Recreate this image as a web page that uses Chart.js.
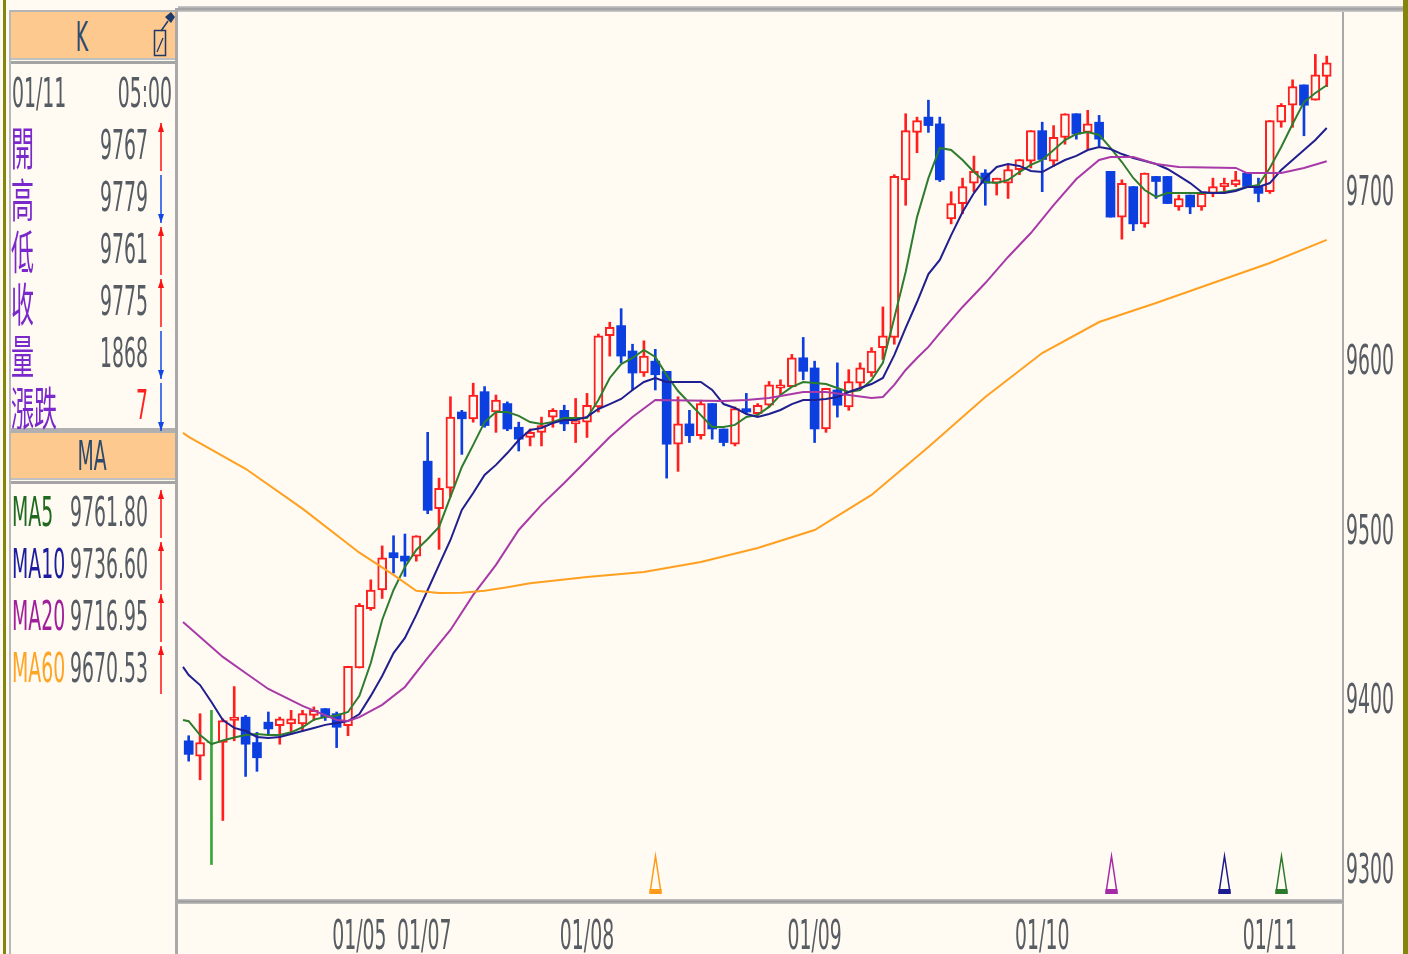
<!DOCTYPE html>
<html>
<head>
<meta charset="utf-8">
<script src="https://cdn.jsdelivr.net/npm/chart.js@4.4.0/dist/chart.umd.min.js"></script>
<style>
  html, body { margin: 0; padding: 0; background: #fffaf2; }
  body { position: relative; width: 1408px; height: 954px; overflow: hidden; }
  .t { position: absolute; width: 400px; height: 52px; line-height: 52px; white-space: nowrap;
       font-family: "DejaVu Sans"; font-size: 41px; color: #565c63; }
  .b { position: absolute; }
  #c { position: absolute; left: 178px; top: 0; }
  #deco { position: absolute; left: 0; top: 0; }
</style>
</head>
<body>
<!-- frame -->
<div class="b" style="left:3px;top:0;width:3px;height:954px;background:#85850c"></div>
<div class="b" style="left:1403px;top:0;width:5px;height:954px;background:#85850c"></div>
<div class="b" style="left:9px;top:10px;width:2px;height:944px;background:#b8b8b8"></div>
<div class="b" style="left:175px;top:8px;width:3px;height:946px;background:#a9a9a9"></div>
<div class="b" style="left:178px;top:6px;width:1225px;height:6px;background:linear-gradient(#cfcfcf,#9c9c9c,#cfcfcf)"></div>
<div class="b" style="left:1342px;top:12px;width:2px;height:942px;background:#a9a9a9"></div>
<div class="b" style="left:178px;top:899px;width:1165px;height:5px;background:linear-gradient(#c4c4c4,#9c9c9c,#c4c4c4)"></div>
<!-- panel headers -->
<div class="b" style="left:11px;top:10px;width:164px;height:48px;background:#fec98f;border-top:2px solid #b4b4b4"></div>
<div class="b" style="left:11px;top:58px;width:164px;height:6px;background:linear-gradient(#c0c0c0 0 2px,#fffaf2 2px 3px,#a4a4a4 3px 6px)"></div>
<div class="b" style="left:11px;top:428px;width:164px;height:5px;background:#b0b0b0"></div>
<div class="b" style="left:11px;top:433px;width:164px;height:45px;background:#fec98f"></div>
<div class="b" style="left:11px;top:478px;width:164px;height:6px;background:linear-gradient(#c0c0c0 0 2px,#fffaf2 2px 3px,#a4a4a4 3px 6px)"></div>

<svg id="deco" width="180" height="954"></svg>
<canvas id="c" width="1225" height="954"></canvas>

<script>
// ---- candles (hourly) ----
const opens = [9375,9366,9374,9374,9387,9389,9374,9386,9384,9385,
  9385,9390,9394,9391,9384,9418,9453,9464,9486,9484,
  9484,9540,9512,9524,9569,9565,9581,9569,9574,9560,
  9554,9557,9566,9570,9562,9563,9572,9614,9620,9605,
  9592,9599,9593,9550,9562,9555,9574,9559,9550,9571,
  9568,9573,9583,9584,9601,9595,9559,9582,9572,9586,
  9592,9607,9613,9706,9734,9743,9739,9683,9692,9704,
  9710,9704,9704,9712,9717,9735,9717,9731,9745,9734,
  9740,9711,9684,9702,9680,9708,9708,9690,9697,9690,
  9698,9702,9703,9710,9702,9699,9740,9750,9762,9753,
  9767];
const highs = [9378,9391,9393,9388,9407,9390,9380,9392,9389,9393,
  9393,9395,9394,9392,9419,9456,9470,9490,9496,9497,
  9496,9557,9530,9578,9570,9586,9584,9579,9575,9563,
  9559,9566,9571,9573,9577,9580,9615,9622,9630,9609,
  9611,9606,9593,9578,9570,9576,9574,9559,9572,9580,
  9574,9587,9588,9603,9613,9599,9583,9598,9594,9598,
  9607,9631,9709,9745,9743,9753,9743,9699,9707,9720,
  9712,9707,9715,9718,9735,9740,9738,9745,9745,9747,
  9744,9711,9706,9702,9710,9708,9708,9697,9697,9698,
  9707,9707,9711,9710,9707,9741,9751,9765,9762,9780,
  9779];
const lows = [9363,9352,9302,9328,9375,9354,9357,9378,9373,9379,
  9381,9387,9387,9371,9378,9418,9452,9459,9474,9472,
  9481,9509,9488,9519,9544,9563,9560,9557,9558,9546,
  9549,9549,9560,9558,9551,9554,9569,9602,9598,9582,
  9590,9582,9530,9534,9551,9553,9553,9549,9549,9568,
  9567,9572,9579,9584,9588,9551,9557,9566,9570,9584,
  9590,9600,9609,9691,9722,9734,9705,9680,9686,9699,
  9691,9697,9695,9709,9713,9699,9714,9727,9730,9724,
  9726,9684,9671,9676,9678,9695,9692,9688,9686,9688,
  9696,9699,9702,9702,9693,9698,9737,9737,9732,9753,
  9761];
const closes = [9367,9374,9374,9387,9389,9373,9365,9382,9388,9388,
  9391,9393,9389,9383,9419,9455,9464,9483,9483,9481,
  9496,9511,9524,9566,9565,9579,9561,9576,9559,9553,
  9557,9561,9570,9562,9564,9573,9614,9619,9602,9592,
  9602,9591,9550,9562,9555,9574,9559,9551,9571,9569,
  9573,9585,9585,9601,9593,9559,9583,9573,9587,9595,
  9605,9614,9708,9735,9741,9738,9706,9692,9702,9711,
  9704,9707,9712,9718,9735,9718,9731,9745,9733,9739,
  9730,9684,9704,9680,9710,9705,9692,9695,9690,9698,
  9702,9704,9706,9702,9698,9741,9750,9761,9750,9768,
  9775];

// ---- moving averages as drawn ----
const maEdge = -0.5; // lines start a bit left of the first candle
const ma5Edge = 9387.3;
const ma5 = [9386.6,9378.4,9373,9375.2,9377,9378.4,9379,9378.4,9378.4,9380,
  9383,9387.5,9389,9390,9392,9401.5,9420.9,9446.3,9464,9477.6,
  9487.6,9494.1,9501.2,9518.9,9536.6,9549.6,9563.1,9569,9569,9566.7,
  9563.1,9561.9,9563.1,9565.5,9565.5,9565.5,9576.1,9589.1,9597.3,9600.9,
  9605.6,9601.5,9590.8,9581.4,9574.3,9567.2,9560.2,9560.2,9561.4,9566.1,
  9567.3,9572,9579.1,9583.8,9586.7,9586.1,9585.5,9583.2,9580.8,9582,
  9587.9,9598,9624.5,9651.6,9684,9707,9724.8,9723.6,9717.7,9710.6,
  9704.7,9704.1,9705.9,9710.6,9714.8,9717.7,9723.6,9729.5,9733,9734.2,
  9732.5,9724.8,9716.5,9707.1,9700,9695.9,9698.2,9698.2,9698.2,9698.2,
  9698.2,9698.8,9700,9701.8,9702.9,9713,9725.4,9738.9,9751.9,9757.2,
  9761.8];
const ma10Edge = 9418.6;
const ma10 = [9413.8,9407.9,9397.9,9387.3,9382.6,9380.8,9377.3,9376.7,9377.3,9379,
  9380.8,9382.6,9384.4,9385.5,9386.7,9390.8,9401.5,9413.3,9426.8,9435.7,
  9449.3,9464,9478.8,9493.5,9511.2,9521.2,9531.9,9537.8,9544.8,9552.5,
  9558.4,9559.6,9562.5,9564.3,9564.3,9566.1,9570.8,9573.7,9576.7,9582,
  9586.7,9589.1,9586.7,9586.7,9586.7,9586.7,9582,9573.7,9571.4,9567.8,
  9566.1,9567.8,9570.2,9573.7,9576.1,9576.1,9576.7,9577.9,9580.8,9583.2,
  9585.5,9589.1,9602.6,9618.6,9633.9,9650.4,9658.7,9673.4,9687,9698.2,
  9707.1,9713.6,9715.3,9714.2,9711.2,9710.6,9714.2,9717.7,9720.1,9723.6,
  9725.4,9724.2,9721.2,9718.9,9717.1,9715.3,9712.4,9708.3,9704.1,9698.8,
  9698.2,9698.2,9699.4,9701.8,9701.8,9704.1,9711.8,9717.7,9723.6,9729.5,
  9736.6];
const ma20Idx = [-0.5,3,5,7,10,13,14,15,17,19,21,23,25,27,29,31,33,35,37,39,41,47,49,51,54,
  56,58,60,61,62,63,64,65,66,68,70,72,74,76,78,80,81,83,85,87,92,93,96,98,100];
const ma20Val = [9445.1,9424.5,9415,9405.6,9395.6,9387.3,9386.7,9389,9396.2,9406.8,
  9423.9,9440.4,9461.1,9478.8,9499.4,9514.2,9527.1,9540.7,9554.3,9566.1,
  9576.1,9575.5,9576.1,9577.3,9580.8,9580.8,9579,9577.3,9577.9,9585,
  9593.8,9600.9,9607.4,9615.6,9631,9645.1,9660.5,9674.6,9691.1,9706.5,
  9717.7,9719.5,9719.5,9715.3,9713.6,9713,9710,9710,9713,9716.95];
const ma60Idx = [-0.5,0,5,10,15,18,20,22,24,26,28,30,35,40,45,50,55,60,65,70,75,80,85,90,95,100];
const ma60Val = [9556.7,9554.3,9535.5,9512,9486,9472.9,9463.5,9462.2,9462.4,9463.6,
  9465.6,9468,9471.7,9474.6,9480.5,9488.8,9499.4,9520.1,9548.4,9577.9,
  9603.8,9622.1,9633.3,9645.1,9656.9,9670.53];

// signal triangles at the bottom (candle index) and their colours
const signalIdx = [41, 81, 91, 96];
const signalColor = ['#ff9a1a', '#a62aa6', '#1c1c90', '#2b7a2b'];

// axis labels
const yTicks = [9300, 9400, 9500, 9600, 9700];
const dateLabels = ['01/05', '01/07', '01/08', '01/09', '01/10', '01/11'];
const dateIdx = [15, 20.7, 35, 55, 75, 95];

// side panel values
const infoDate = '01/11', infoTime = '05:00';
const infoNames = ['開', '高', '低', '收', '量', '漲跌'];
const infoValues = [9767, 9779, 9761, 9775, 1868, 7];
const infoUp = [true, false, true, true, false, false];
const maNames = ['MA5', 'MA10', 'MA20', 'MA60'];
const maLast = [9761.80, 9736.60, 9716.95, 9670.53];
const maColors = ['#2e7d2e', '#1f1f8f', '#a83aa8', '#ffa020'];
const maTextColors = ['#1f6a1f', '#1c1ca0', '#a0209c', '#ffa526'];

const SX = 0.46;
const UP = '#ff1f1f', DOWN = '#0b3fe0', FLAT = '#37a537', BG = '#fffaf2';

// ---------- side panel ----------
function addText(s, o) {
  const d = document.createElement('div');
  d.className = 't';
  d.textContent = s;
  d.style.top = (o.cy - 26) + 'px';
  if (o.size) d.style.fontSize = o.size + 'px';
  if (o.font) d.style.fontFamily = o.font;
  if (o.color) d.style.color = o.color;
  const sx = o.sx || SX;
  if (o.right != null) {
    d.style.left = (o.right - 400) + 'px'; d.style.textAlign = 'right'; d.style.transformOrigin = 'right center';
  } else if (o.center != null) {
    d.style.left = (o.center - 200) + 'px'; d.style.textAlign = 'center'; d.style.transformOrigin = 'center center';
  } else {
    d.style.left = o.left + 'px'; d.style.transformOrigin = 'left center';
  }
  d.style.transform = 'scaleX(' + sx + ')';
  document.body.appendChild(d);
}

const svg = document.getElementById('deco');
function svgEl(tag, attrs) {
  const e = document.createElementNS('http://www.w3.org/2000/svg', tag);
  for (const k in attrs) e.setAttribute(k, attrs[k]);
  svg.appendChild(e);
}
function arrow(x, cy, up, color) {
  const top = cy - 22, bot = cy + 26;
  svgEl('line', { x1: x, y1: top, x2: x, y2: bot, stroke: color, 'stroke-width': 1.5 });
  if (up) svgEl('polygon', { points: `${x},${top} ${x - 3},${top + 9} ${x + 3},${top + 9}`, fill: color });
  else svgEl('polygon', { points: `${x},${bot} ${x - 3},${bot - 9} ${x + 3},${bot - 9}`, fill: color });
}

const CJK = '"Noto Sans CJK TC"';
addText('K', { center: 82, cy: 37, color: '#2c4a6e' });
// pop-out / pin icon
svgEl('rect', { x: 154.5, y: 30.5, width: 11, height: 25, fill: 'none', stroke: '#1e3a6a', 'stroke-width': 1.5 });
svgEl('line', { x1: 157, y1: 52, x2: 163, y2: 38, stroke: '#1e3a6a', 'stroke-width': 1.3 });
svgEl('line', { x1: 161, y1: 31, x2: 168, y2: 21, stroke: '#1e3a6a', 'stroke-width': 1.5 });
svgEl('polygon', { points: '165,17 171,12 175,17 171,23', fill: '#1e3a6a' });

addText(infoDate, { left: 12, cy: 93 });
addText(infoTime, { right: 172, cy: 93 });
infoNames.forEach((n, k) => {
  const cy = 145 + 52 * k;
  addText(n, { left: 11, cy, font: CJK, size: 46, sx: 0.5, color: '#7a28cc' });
  addText(String(infoValues[k]), { right: 148, cy, color: k === 5 ? '#ff2020' : undefined });
  arrow(161, cy, infoUp[k], infoUp[k] ? '#ff1010' : '#1048e8');
});

addText('MA', { center: 92, cy: 456, color: '#2c4a6e' });
maNames.forEach((n, k) => {
  const cy = 512 + 52 * k;
  addText(n, { left: 12, cy, color: maTextColors[k] });
  addText(maLast[k].toFixed(2), { right: 148, cy });
  arrow(161, cy, true, '#ff1010');
});

// ---------- chart ----------
const idx = opens.map((_, i) => i);
const colorOf = i => closes[i] > opens[i] ? UP : (closes[i] < opens[i] ? DOWN : FLAT);
const isUp = i => closes[i] > opens[i];

const lineSet = (pts, color) => ({
  type: 'line', data: pts, borderColor: color, borderWidth: 2,
  pointRadius: 0, fill: false, tension: 0, order: 1
});

function squeezed(ctx, s, px, py, color) {
  ctx.save();
  ctx.translate(px, py);
  ctx.scale(SX, 1);
  ctx.fillStyle = color;
  ctx.font = '41px "DejaVu Sans"';
  ctx.textAlign = 'center';
  ctx.textBaseline = 'alphabetic';
  ctx.fillText(s, 0, 15);
  ctx.restore();
}

const overlay = {
  id: 'overlay',
  afterDatasetsDraw(chart) {
    const { ctx, scales: { x } } = chart;
    signalIdx.forEach((s, k) => {
      const px = Math.round(x.getPixelForValue(s)) + 0.5;
      ctx.save();
      ctx.strokeStyle = signalColor[k];
      ctx.fillStyle = signalColor[k];
      ctx.lineWidth = 1.5;
      ctx.beginPath();
      ctx.moveTo(px, 856);
      ctx.lineTo(px + 5.5, 893);
      ctx.lineTo(px - 5.5, 893);
      ctx.closePath();
      ctx.stroke();
      ctx.fillRect(px - 6, 889, 12, 5);
      ctx.restore();
    });
  },
  afterDraw(chart) {
    const { ctx, scales: { x, y } } = chart;
    yTicks.forEach(v => squeezed(ctx, String(v), 1192, y.getPixelForValue(v), '#585d64'));
    dateLabels.forEach((t, k) => squeezed(ctx, t, x.getPixelForValue(dateIdx[k]), 934, '#585d64'));
  }
};

new Chart(document.getElementById('c'), {
  type: 'bar',
  data: {
    datasets: [
      {
        // wicks
        type: 'bar',
        data: idx.map(i => ({ x: i, y: [lows[i], highs[i]] })),
        backgroundColor: idx.map(colorOf),
        borderWidth: 0,
        barThickness: 2,
        grouped: false,
        order: 3
      },
      {
        // bodies: hollow red for up, filled blue for down
        type: 'bar',
        data: idx.map(i => ({ x: i, y: [opens[i], closes[i]] })),
        backgroundColor: idx.map(i => isUp(i) ? BG : colorOf(i)),
        borderColor: idx.map(colorOf),
        borderWidth: idx.map(i => isUp(i) ? 2 : 0),
        borderSkipped: false,
        barThickness: 9,
        grouped: false,
        order: 2
      },
      lineSet(ma60Idx.map((v, k) => ({ x: v, y: ma60Val[k] })), maColors[3]),
      lineSet(ma20Idx.map((v, k) => ({ x: v, y: ma20Val[k] })), maColors[2]),
      lineSet([{ x: maEdge, y: ma10Edge }].concat(ma10.map((v, i) => ({ x: i, y: v }))), maColors[1]),
      lineSet([{ x: maEdge, y: ma5Edge }].concat(ma5.map((v, i) => ({ x: i, y: v }))), maColors[0])
    ]
  },
  options: {
    responsive: false,
    animation: false,
    events: [],
    layout: { padding: { left: 0, right: 60, top: 10, bottom: 52 } },
    plugins: { legend: { display: false }, tooltip: { enabled: false } },
    scales: {
      x: { type: 'linear', min: -0.94, max: 101.43, offset: false, display: false },
      y: { type: 'linear', min: 9279.9, max: 9806.2, display: false }
    }
  },
  plugins: [overlay]
});
</script>
</body>
</html>
